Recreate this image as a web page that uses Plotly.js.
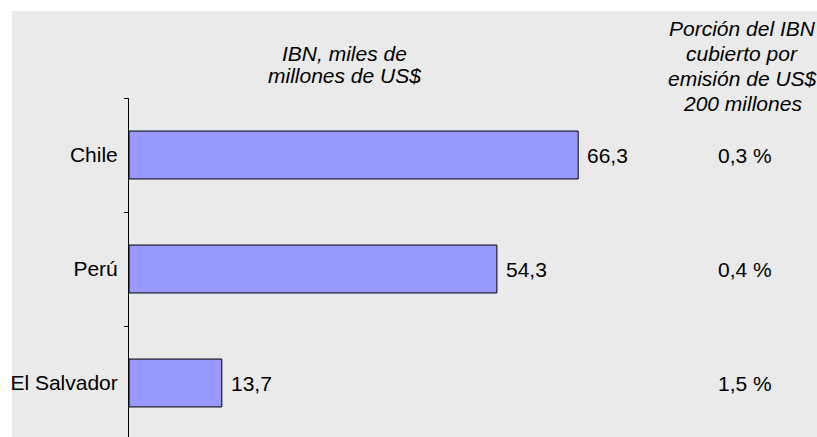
<!DOCTYPE html>
<html>
<head>
<meta charset="utf-8">
<script src="https://cdn.plot.ly/plotly-3.0.1.min.js"></script>
<style>
html, body { margin: 0; padding: 0; width: 817px; height: 437px; overflow: hidden; background: #ffffff; }
#chart { position: absolute; left: 0px; top: 0px; width: 817px; height: 440px; }
</style>
</head>
<body>
<div id="chart"></div>
<script>
// Data
const countries = ["Chile", "Perú", "El Salvador"];
const ibnValues = [66.3, 54.3, 13.7];
const sharePct = [0.3, 0.4, 1.5];
const leftTitleLines = ["IBN, miles de", "millones de US$"];
const rightTitleLines = ["Porción del IBN", "cubierto por", "emisión de US$", "200 millones"];

const fmt = v => v.toFixed(1).replace('.', ',');

const FONT = "Liberation Sans, Arial, sans-serif";
const FS = 21;

// plot geometry (page px) used only to place header text / background in paper coords
const plotLeft = 129, plotTop = 98, plotW = 688, plotH = 342;
const px = x => (x - plotLeft) / plotW;           // page x -> paper x
const py = y => (plotTop + plotH - y) / plotH;    // page y -> paper y

const trace = {
  type: 'bar',
  orientation: 'h',
  y: countries,
  x: ibnValues,
  width: 0.42,
  marker: { color: '#9999FF', line: { color: '#000000', width: 1 } },
  hoverinfo: 'none'
};

const annotations = [];
countries.forEach((c, i) => {
  annotations.push({
    xref: 'x', yref: 'y', x: ibnValues[i], y: c,
    text: fmt(ibnValues[i]), showarrow: false,
    xanchor: 'left', yanchor: 'middle', xshift: 7,
    font: { family: FONT, size: FS, color: '#000000' }
  });
  annotations.push({
    xref: 'paper', yref: 'y', x: px(744.5), y: c,
    text: fmt(sharePct[i]) + ' %', showarrow: false,
    xanchor: 'center', yanchor: 'middle',
    font: { family: FONT, size: FS, color: '#000000' }
  });
});
const leftY = [53, 76];
leftTitleLines.forEach((t, i) => {
  annotations.push({
    xref: 'paper', yref: 'paper', x: px(344), y: py(leftY[i]),
    text: '<i>' + t + '</i>', showarrow: false,
    xanchor: 'center', yanchor: 'middle',
    font: { family: FONT, size: FS, color: '#000000' }
  });
});
const rightY = [28.5, 53.5, 78.5, 103.5];
rightTitleLines.forEach((t, i) => {
  annotations.push({
    xref: 'paper', yref: 'paper', x: px(742), y: py(rightY[i]),
    text: '<i>' + t + '</i>', showarrow: false,
    xanchor: 'center', yanchor: 'middle',
    font: { family: FONT, size: FS, color: '#000000' }
  });
});

const layout = {
  width: 817, height: 440,
  margin: { l: plotLeft, r: 0, t: plotTop, b: 0, pad: 0 },
  paper_bgcolor: '#FFFFFF',
  plot_bgcolor: 'rgba(0,0,0,0)',
  showlegend: false,
  shapes: [{
    type: 'rect', xref: 'paper', yref: 'paper', layer: 'below',
    x0: px(12), x1: 1.01, y0: -0.05, y1: py(11),
    fillcolor: '#EAEAEA', line: { width: 0 }
  }],
  xaxis: {
    range: [0, plotW / 6.775],
    visible: false, fixedrange: true
  },
  yaxis: {
    type: 'category',
    autorange: 'reversed',
    showline: true, linecolor: '#000000', linewidth: 1,
    ticks: 'outside', ticklen: 4, tickcolor: '#000000', tickwidth: 1,
    tickson: 'boundaries',
    ticklabelstandoff: 6,
    showgrid: false, zeroline: false,
    tickfont: { family: FONT, size: FS, color: '#000000' },
    fixedrange: true
  },
  annotations: annotations
};

Plotly.newPlot('chart', [trace], layout, { displayModeBar: false, staticPlot: true });
</script>
</body>
</html>
